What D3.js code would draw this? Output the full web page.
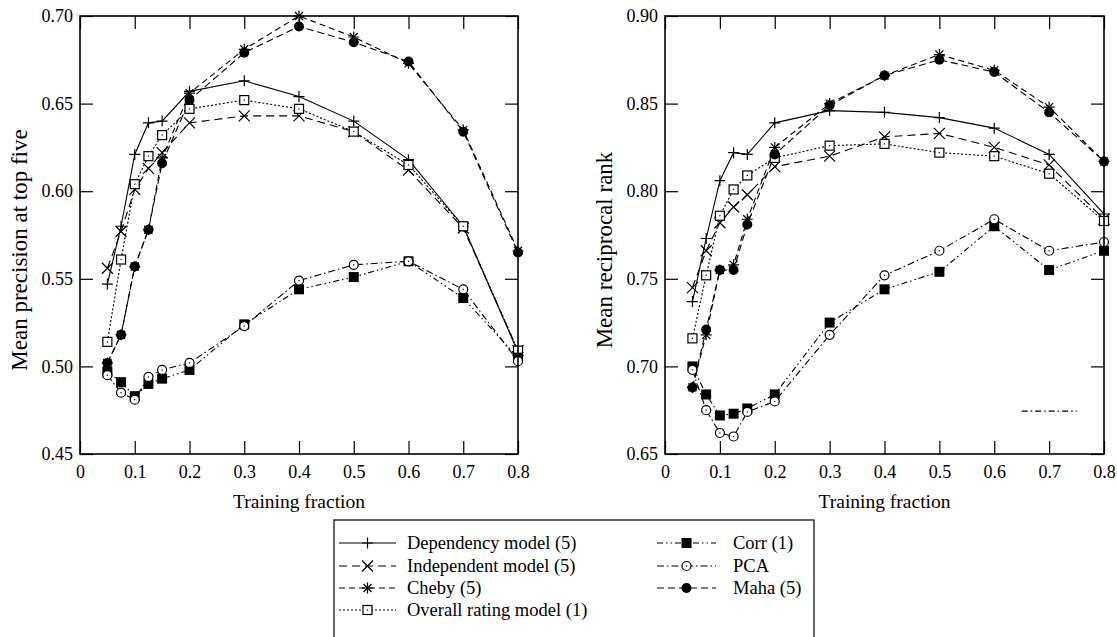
<!DOCTYPE html>
<html>
<head>
<meta charset="utf-8">
<script src="https://cdn.jsdelivr.net/npm/d3@7"></script>
<style>
body { margin: 0; background: #fff; }
svg text { font-family: "Liberation Serif", "DejaVu Serif", serif; fill: #000; }
</style>
</head>
<body>
<script>
var W = 1117, H = 637;

// training fractions
var fractions = [0.05, 0.075, 0.1, 0.125, 0.15, 0.2, 0.3, 0.4, 0.5, 0.6, 0.7, 0.8];
var xTicks = [0, 0.1, 0.2, 0.3, 0.4, 0.5, 0.6, 0.7, 0.8];

// mean precision at top five
var precDep     = [0.547, 0.580, 0.621, 0.639, 0.640, 0.657, 0.663, 0.654, 0.640, 0.618, 0.580, 0.508];
var precInd     = [0.556, 0.577, 0.601, 0.613, 0.622, 0.639, 0.643, 0.643, 0.634, 0.612, 0.579, 0.509];
var precCheby   = [0.502, 0.518, 0.557, 0.578, 0.619, 0.656, 0.681, 0.700, 0.688, 0.673, 0.635, 0.566];
var precOverall = [0.514, 0.561, 0.604, 0.620, 0.632, 0.647, 0.652, 0.647, 0.634, 0.615, 0.580, 0.509];
var precCorr    = [0.497, 0.491, 0.483, 0.490, 0.493, 0.498, 0.524, 0.544, 0.551, 0.560, 0.539, 0.505];
var precPCA     = [0.495, 0.485, 0.481, 0.494, 0.498, 0.502, 0.523, 0.549, 0.558, 0.560, 0.544, 0.503];
var precMaha    = [0.502, 0.518, 0.557, 0.578, 0.616, 0.652, 0.679, 0.694, 0.685, 0.674, 0.634, 0.565];
var precTicks = [0.45, 0.50, 0.55, 0.60, 0.65, 0.70];

// mean reciprocal rank
var mrrDep     = [0.737, 0.773, 0.806, 0.822, 0.821, 0.839, 0.846, 0.845, 0.842, 0.836, 0.821, 0.787];
var mrrInd     = [0.745, 0.766, 0.782, 0.791, 0.798, 0.814, 0.820, 0.831, 0.833, 0.825, 0.815, 0.784];
var mrrCheby   = [0.688, 0.718, 0.755, 0.758, 0.784, 0.825, 0.850, 0.866, 0.878, 0.869, 0.848, 0.817];
var mrrOverall = [0.716, 0.752, 0.786, 0.801, 0.809, 0.819, 0.826, 0.827, 0.822, 0.820, 0.810, 0.783];
var mrrCorr    = [0.700, 0.684, 0.672, 0.673, 0.676, 0.684, 0.725, 0.744, 0.754, 0.780, 0.755, 0.766];
var mrrPCA     = [0.698, 0.675, 0.662, 0.660, 0.674, 0.680, 0.718, 0.752, 0.766, 0.784, 0.766, 0.771];
var mrrMaha    = [0.688, 0.721, 0.755, 0.755, 0.781, 0.821, 0.849, 0.866, 0.875, 0.868, 0.845, 0.817];
var mrrTicks = [0.65, 0.70, 0.75, 0.80, 0.85, 0.90];

// stray key segment left in the right panel (x from, x to, y)
var strayKey = [0.65, 0.75, 0.6745];

var names = ["Dependency model (5)", "Independent model (5)", "Cheby (5)", "Overall rating model (1)",
             "Corr (1)", "PCA", "Maha (5)"];

// line style + marker per series
var styles = [
  {dash: null,                marker: "plus"},
  {dash: "8,5",               marker: "cross"},
  {dash: "6,4",               marker: "star"},
  {dash: "2,2",               marker: "square"},
  {dash: "6,3,1.5,3,1.5,3",   marker: "fsquare"},
  {dash: "7,3,1.5,3",         marker: "circle"},
  {dash: "7,4",               marker: "fcircle"}
];

var svg = d3.select("body").append("svg")
    .attr("width", W)
    .attr("height", H);

function marker(g, type, x, y) {
  var m = g.append("g").attr("transform", "translate(" + x + "," + y + ")");
  if (type == "plus" || type == "star") {
    m.append("path").attr("d", "M-5.5,0H5.5M0,-5.5V5.5").attr("stroke", "#000").attr("stroke-width", 1.2);
  }
  if (type == "cross" || type == "star") {
    var s = type == "star" ? 4 : 5.5;
    m.append("path").attr("d", "M" + (-s) + "," + (-s) + "L" + s + "," + s + "M" + (-s) + "," + s + "L" + s + "," + (-s))
      .attr("stroke", "#000").attr("stroke-width", 1.2);
  }
  if (type == "square") {
    m.append("rect").attr("x", -4.5).attr("y", -4.5).attr("width", 9).attr("height", 9)
      .attr("fill", "#fff").attr("stroke", "#000").attr("stroke-width", 1.2);
    m.append("rect").attr("x", -0.6).attr("y", -0.6).attr("width", 1.2).attr("height", 1.2).attr("fill", "#000");
  }
  if (type == "fsquare") {
    m.append("rect").attr("x", -5).attr("y", -5).attr("width", 10).attr("height", 10).attr("fill", "#000");
  }
  if (type == "circle") {
    m.append("circle").attr("r", 4.5).attr("fill", "#fff").attr("stroke", "#000").attr("stroke-width", 1.2);
    m.append("rect").attr("x", -0.6).attr("y", -0.6).attr("width", 1.2).attr("height", 1.2).attr("fill", "#000");
  }
  if (type == "fcircle") {
    m.append("circle").attr("r", 5).attr("fill", "#000");
  }
}

function panel(x0, x1, yDomain, yTicks, series, title) {
  var y0 = 16, y1 = 454;
  var x = d3.scaleLinear().domain([0, 0.8]).range([x0, x1]);
  var y = d3.scaleLinear().domain(yDomain).range([y1, y0]);
  var g = svg.append("g");

  var line = d3.line().x(function(d) { return x(d[0]); }).y(function(d) { return y(d[1]); });

  // lines first, then markers
  series.forEach(function(vals, i) {
    var pts = fractions.map(function(f, k) { return [f, vals[k]]; });
    g.append("path").datum(pts)
      .attr("d", line)
      .attr("fill", "none")
      .attr("stroke", "#000")
      .attr("stroke-width", 1.1)
      .attr("stroke-dasharray", styles[i].dash);
  });
  series.forEach(function(vals, i) {
    fractions.forEach(function(f, k) { marker(g, styles[i].marker, x(f), y(vals[k])); });
  });

  // axes, ticks pointing inward
  var bottom = g.append("g").attr("transform", "translate(0," + y1 + ")")
    .call(d3.axisBottom(x).tickValues(xTicks).tickSizeInner(-13).tickSizeOuter(0).tickPadding(11)
      .tickFormat(function(d) { return d == 0 ? "0" : d3.format(".1f")(d); }));
  var top = g.append("g").attr("transform", "translate(0," + y0 + ")")
    .call(d3.axisTop(x).tickValues(xTicks).tickSizeInner(-13).tickSizeOuter(0).tickFormat(""));
  var left = g.append("g").attr("transform", "translate(" + x0 + ",0)")
    .call(d3.axisLeft(y).tickValues(yTicks).tickSizeInner(-13).tickSizeOuter(0).tickPadding(7)
      .tickFormat(d3.format(".2f")));
  var right = g.append("g").attr("transform", "translate(" + x1 + ",0)")
    .call(d3.axisRight(y).tickValues(yTicks).tickSizeInner(-13).tickSizeOuter(0).tickFormat(""));
  [bottom, top, left, right].forEach(function(a) {
    a.select(".domain").remove();
    a.selectAll("line").attr("stroke", "#000").attr("stroke-width", 1.2);
    a.selectAll("text").attr("font-size", 18).attr("font-family", "Liberation Serif").attr("fill", "#000");
  });

  g.append("rect").attr("x", x0).attr("y", y0).attr("width", x1 - x0).attr("height", y1 - y0)
    .attr("fill", "none").attr("stroke", "#000").attr("stroke-width", 1.6);

  g.append("text").attr("x", (x0 + x1) / 2).attr("y", 508)
    .attr("text-anchor", "middle").attr("font-size", 19.5).text("Training fraction");
  g.append("text")
    .attr("transform", "translate(" + (x0 - 53) + "," + ((y0 + y1) / 2 + 15) + ") rotate(-90)")
    .attr("text-anchor", "middle").attr("font-size", 23).text(title);

  return {x: x, y: y, g: g};
}

panel(80, 518, [0.45, 0.70], precTicks,
  [precDep, precInd, precCheby, precOverall, precCorr, precPCA, precMaha], "Mean precision at top five");
var p2 = panel(665, 1104, [0.65, 0.90], mrrTicks,
  [mrrDep, mrrInd, mrrCheby, mrrOverall, mrrCorr, mrrPCA, mrrMaha], "Mean reciprocal rank");

p2.g.append("line")
  .attr("x1", p2.x(strayKey[0])).attr("x2", p2.x(strayKey[1]))
  .attr("y1", p2.y(strayKey[2])).attr("y2", p2.y(strayKey[2]))
  .attr("stroke", "#000").attr("stroke-width", 1.1).attr("stroke-dasharray", "6,3,1.5,3");

// legend
var leg = svg.append("g");
leg.append("rect").attr("x", 334).attr("y", 520).attr("width", 480).attr("height", 130)
  .attr("fill", "#fff").attr("stroke", "#000").attr("stroke-width", 1.2);
var rowY = [543, 566, 588, 610];
names.forEach(function(n, i) {
  var col = i < 4 ? 0 : 1;
  var r = i < 4 ? i : i - 4;
  var lx0 = col == 0 ? 339 : 657, lx1 = col == 0 ? 396 : 716;
  var tx = col == 0 ? 407 : 733;
  var cy = rowY[r];
  leg.append("line").attr("x1", lx0).attr("x2", lx1).attr("y1", cy).attr("y2", cy)
    .attr("stroke", "#000").attr("stroke-width", 1.1).attr("stroke-dasharray", styles[i].dash);
  marker(leg, styles[i].marker, (lx0 + lx1) / 2, cy);
  leg.append("text").attr("x", tx).attr("y", cy + 6).attr("font-size", 18.5).text(n);
});
</script>
</body>
</html>
